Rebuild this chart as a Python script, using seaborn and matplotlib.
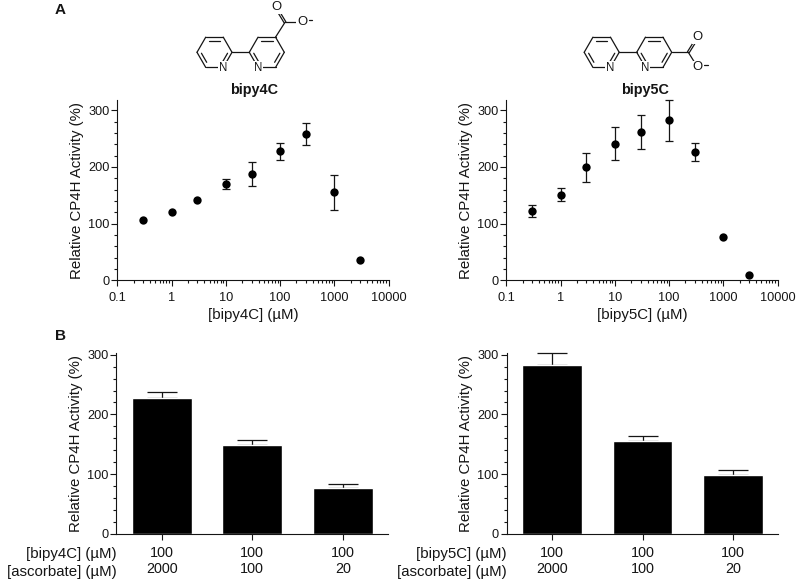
import numpy as np
import pandas as pd
import matplotlib
matplotlib.use('Agg')
import matplotlib.pyplot as plt
import seaborn as sns

conc = [0.3, 1, 3, 10, 30, 100, 300, 1000, 3000]
activity_4c = [106.5, 120, 142, 170, 188, 228, 258, 155, 35]
err_4c = [0, 0, 0, 9, 21, 15, 20, 31, 0]
activity_5c = [122, 151, 199, 241, 262, 282, 226, 76, 10]
err_5c = [10.5, 12, 25, 29, 30, 36, 16, 0, 0]

ascorbate = ['2000', '100', '20']
bar_4c = [228, 148, 77]
bar_err_4c = [9, 9, 6]
bar_5c = [283, 155, 98]
bar_err_5c = [20, 9, 9]

W, H = 800, 587
YLABEL = 'Relative CP4H Activity (%)'
LS = 10.8
DARK = '#151515'

sns.set_theme(style='ticks')
plt.rcParams['font.family'] = ['Liberation Sans', 'DejaVu Sans']
plt.rcParams['text.color'] = DARK
plt.rcParams['axes.labelcolor'] = DARK
plt.rcParams['xtick.color'] = DARK
plt.rcParams['ytick.color'] = DARK

fig = plt.figure(figsize=(W / 100, H / 100), dpi=100, facecolor='white')


def px_axes(x0, x1, ytop, ybot):
    return fig.add_axes([x0 / W, 1 - ybot / H, (x1 - x0) / W, (ybot - ytop) / H], facecolor='none')


def style_y(ax, top):
    ax.set_ylim(0, top)
    ax.set_yticks([0, 100, 200, 300])
    ax.set_yticks(np.arange(0, 301, 20), minor=True)
    ax.tick_params(axis='y', which='major', length=4.2, width=0.8, labelsize=9.2, pad=1.5)
    ax.tick_params(axis='y', which='minor', length=2.4, width=0.8)
    ax.set_ylabel(YLABEL, fontsize=LS, labelpad=3)
    sns.despine(ax=ax)
    for s in ['left', 'bottom']:
        ax.spines[s].set_linewidth(0.8)
        ax.spines[s].set_color(DARK)


def dose_panel(x0, x1, values, errs, xlabel):
    ax = px_axes(x0, x1, 100, 280.3)
    df = pd.DataFrame({'conc': conc, 'activity': values, 'err': errs})
    sub = df[df.err > 0]
    ax.errorbar(sub.conc, sub.activity, yerr=sub.err, fmt='none', ecolor=DARK,
                elinewidth=0.9, capsize=3, capthick=0.9, clip_on=False)
    sns.scatterplot(data=df, x='conc', y='activity', color='black', s=36, linewidth=0,
                    ax=ax, clip_on=False, zorder=3)
    ax.set_xscale('log')
    ax.set_xlim(0.1, 10000)
    ax.set_xticks([0.1, 1, 10, 100, 1000, 10000])
    ax.set_xticklabels(['0.1', '1', '10', '100', '1000', '10000'])
    ax.tick_params(axis='x', which='major', length=4.2, width=0.8, labelsize=9.2, pad=4.5)
    ax.tick_params(axis='x', which='minor', length=2.4, width=0.8)
    ax.set_xlabel(xlabel, fontsize=LS, labelpad=2.5)
    style_y(ax, 318)


def bar_panel(x0, x1, values, errs, name):
    ax = px_axes(x0, x1, 353, 533.7)
    labels = ['100\n' + a for a in ascorbate]
    df = pd.DataFrame({'label': labels, 'activity': values})
    sns.barplot(data=df, x='label', y='activity', color='black', saturation=1, width=0.66, ax=ax)
    ax.errorbar(range(3), values, yerr=[[0, 0, 0], errs], fmt='none', ecolor=DARK,
                elinewidth=0.9, capsize=10.8, capthick=0.9, clip_on=False, zorder=0.5)
    ax.set_xlim(-0.5, 2.5)
    ax.set_xlabel('')
    ax.tick_params(axis='x', length=4.2, width=0.8, labelsize=10.4, pad=5)
    for t in ax.get_xticklabels():
        t.set_linespacing(1.1)
    style_y(ax, 303)
    ax.text(0, -0.11, name + ' (µM)', transform=ax.transAxes, ha='right', va='center', fontsize=LS)
    ax.text(0, -0.21, '[ascorbate] (µM)', transform=ax.transAxes, ha='right', va='center', fontsize=LS)


# structures and panel letters sit on a full-figure overlay in pixel units
over = fig.add_axes([0, 0, 1, 1], facecolor='none')
over.set_xlim(0, W)
over.set_ylim(H, 0)
over.axis('off')


def bond(p, q, off=0):
    p, q = np.array(p, float), np.array(q, float)
    d = (q - p) / np.hypot(*(q - p))
    n = np.array([-d[1], d[0]]) * off
    over.plot([p[0] + n[0], q[0] + n[0]], [p[1] + n[1], q[1] + n[1]], color=DARK, lw=0.9, solid_capstyle='round')


def vert(c, angle, r=17.5):
    a = np.radians(angle)
    return c[0] + r * np.cos(a), c[1] - r * np.sin(a)


def ring(c, n_angle):
    for a in range(0, 360, 60):
        bond(vert(c, a), vert(c, a + 60))
    for a, b, sa, sb in [(60, 120, 0.08, 0.08), (180, 240, 0.08, 0.15), (300, 360, 0.15, 0.08)]:
        p, q = np.array(vert(c, a, 13.6)), np.array(vert(c, b, 13.6))
        m = q - p
        bond(p + m * sa, q - m * sb)
    px, py = vert(c, n_angle)
    over.text(px, py + 0.5, 'N', ha='center', va='center', fontsize=8.3, zorder=5,
              bbox=dict(fc='white', ec='none', pad=0.6))


def molecule(c1, c2, attach, carbon, o1, o2):
    ring(c1, 300)
    ring(c2, 240)
    bond(vert(c1, 0), vert(c2, 180))
    bond(vert(c2, attach), carbon)
    bond(carbon, o1, 1.0)
    bond(carbon, o1, -1.0)
    bond(carbon, o2)
    for p in (o1, o2):
        over.text(p[0], p[1], 'O', ha='center', va='center', fontsize=9.4, zorder=5,
                  bbox=dict(fc='white', ec='none', pad=0.6))
    over.plot([o2[0] + 6.5, o2[0] + 10], [o2[1] - 2, o2[1] - 2], color=DARK, lw=0.9)


molecule((214.5, 52.3), (266.8, 52.3), 60, (285, 22.3), (276, 7.5), (302, 22.3))
molecule((601.7, 52.3), (654.2, 52.3), 0, (688.3, 52.3), (697.7, 37.3), (697.7, 67.3))

over.text(254, 90, 'bipy4C', ha='center', va='center', fontsize=10.4, fontweight='bold')
over.text(645.5, 90, 'bipy5C', ha='center', va='center', fontsize=10.4, fontweight='bold')
over.text(60.5, 9.5, 'A', ha='center', va='center', fontsize=11, fontweight='bold')
over.text(60.5, 336, 'B', ha='center', va='center', fontsize=11, fontweight='bold')

dose_panel(117.3, 388.7, activity_4c, err_4c, '[bipy4C] (µM)')
dose_panel(506.3, 777.7, activity_5c, err_5c, '[bipy5C] (µM)')
bar_panel(116.3, 388.3, bar_4c, bar_err_4c, '[bipy4C]')
bar_panel(506.7, 778.3, bar_5c, bar_err_5c, '[bipy5C]')

fig.savefig('out.png', dpi=100)
